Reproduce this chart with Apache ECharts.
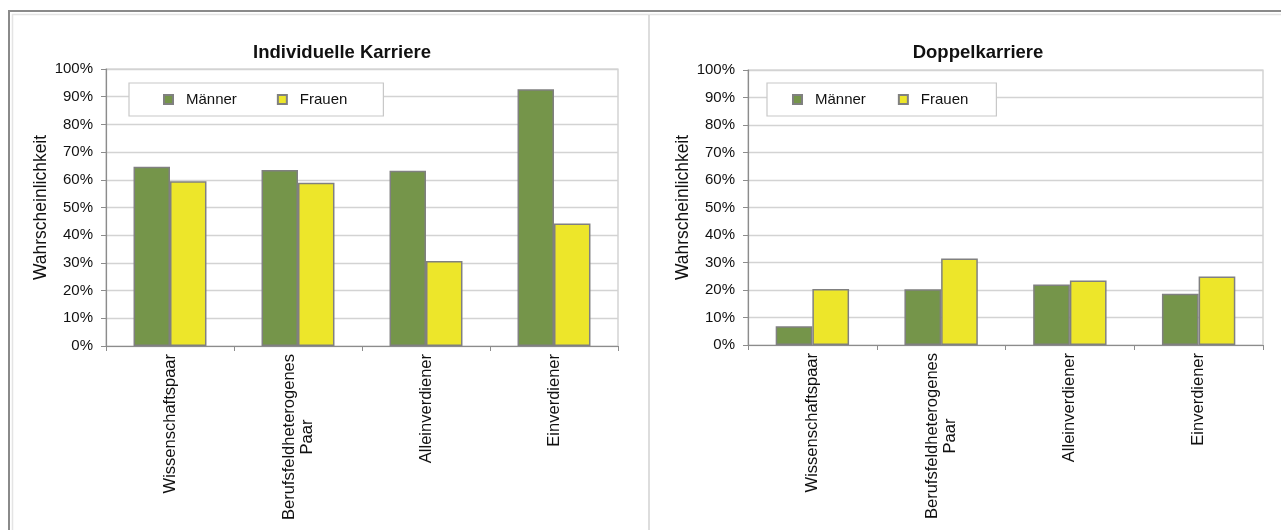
<!DOCTYPE html>
<html>
<head>
<meta charset="utf-8">
<script src="https://cdn.jsdelivr.net/npm/echarts@6/dist/echarts.min.js"></script>
<style>
html,body{margin:0;padding:0;background:#fff;}
#c{width:1281px;height:530px;}
</style>
</head>
<body>
<div id="c"></div>
<script>
var categories = ['Wissenschaftspaar', 'Berufsfeldheterogenes\nPaar', 'Alleinverdiener', 'Einverdiener'];
var seriesNames = ['Männer', 'Frauen'];
var indivMaenner = [64.7, 63.5, 63.3, 92.7];
var indivFrauen = [59.5, 58.9, 30.7, 44.2];
var doppelMaenner = [6.8, 20.3, 22.0, 18.6];
var doppelFrauen = [20.4, 31.5, 23.5, 24.9];
var titles = ['Individuelle Karriere', 'Doppelkarriere'];
var yAxisName = 'Wahrscheinlichkeit';

var FONT = "'Liberation Sans', Arial, sans-serif";
var GREEN = '#75954a';
var YELLOW = '#ede62a';
var BORDER = '#808080';

function yAx(gi) {
  return {
    gridIndex: gi, type: 'value', min: 0, max: 100, interval: 10,
    name: yAxisName, nameLocation: 'middle', nameRotate: 90, nameGap: 56,
    nameTextStyle: {fontFamily: FONT, fontSize: 17.5, color: '#111'},
    axisLine: {show: true, lineStyle: {color: '#8c8c8c', width: 1.2}},
    axisTick: {show: true, length: 5, lineStyle: {color: '#8c8c8c'}},
    axisLabel: {formatter: '{value}%', fontFamily: FONT, fontSize: 15, color: '#111', margin: 13},
    splitLine: {show: true, lineStyle: {color: '#d3d3d3', width: 1.3}}
  };
}
function xAx(gi) {
  return {
    gridIndex: gi, type: 'category', data: categories,
    axisLine: {show: true, lineStyle: {color: '#8c8c8c', width: 1.2}},
    axisTick: {show: true, length: 5, alignWithLabel: false, lineStyle: {color: '#8c8c8c'}},
    axisLabel: {
      rotate: 90, margin: 8, interval: 0, color: '#111', fontFamily: FONT, fontSize: 16.5,
      lineHeight: 18,
      formatter: function (v) { return v.split('\n').map(function (s) { return '{c|' + s + '}'; }).join('\n'); },
      rich: {c: {align: 'center', fontFamily: FONT, fontSize: 16.5, color: '#111', lineHeight: 18}}
    },
    splitLine: {show: false}
  };
}
function bar(name, data, gi, color) {
  return {
    name: name, type: 'bar', xAxisIndex: gi, yAxisIndex: gi, data: data,
    barGap: '0%', barCategoryGap: '43%',
    itemStyle: {color: color, borderColor: BORDER, borderWidth: 1.5},
    emphasis: {disabled: true}
  };
}
function legend(left, gap, pad) {
  return {
    data: seriesNames, left: left, top: 83, orient: 'horizontal',
    itemWidth: 9, itemHeight: 9, itemGap: gap, padding: pad,
    backgroundColor: '#fff', borderColor: '#c8c8c8', borderWidth: 1.2,
    icon: 'rect',
    textStyle: {fontFamily: FONT, fontSize: 15, color: '#111', padding: [0, 0, 0, 8]},
    selectedMode: false
  };
}

var chart = echarts.init(document.getElementById('c'), null, {renderer: 'canvas'});
chart.setOption({
  backgroundColor: '#fff',
  animation: false,
  title: [
    {text: titles[0], left: 337, top: 38, textAlign: 'center',
     textStyle: {fontFamily: FONT, fontSize: 18.5, fontWeight: 'bold', color: '#111'}},
    {text: titles[1], left: 973, top: 38, textAlign: 'center',
     textStyle: {fontFamily: FONT, fontSize: 18.5, fontWeight: 'bold', color: '#111'}}
  ],
  legend: [legend(129, 40, [9, 36, 9, 34]), legend(767, 32, [9, 28, 9, 25])],
  grid: [
    {left: 106, right: 1281 - 618, top: 69, bottom: 530 - 346, show: true, borderColor: '#c8c8c8', borderWidth: 1.2, backgroundColor: '#fff'},
    {left: 748, right: 1281 - 1263, top: 70, bottom: 530 - 345, show: true, borderColor: '#c8c8c8', borderWidth: 1.2, backgroundColor: '#fff'}
  ],
  xAxis: [xAx(0), xAx(1)],
  yAxis: [yAx(0), yAx(1)],
  series: [
    bar(seriesNames[0], indivMaenner, 0, GREEN),
    bar(seriesNames[1], indivFrauen, 0, YELLOW),
    bar(seriesNames[0], doppelMaenner, 1, GREEN),
    bar(seriesNames[1], doppelFrauen, 1, YELLOW)
  ],
  graphic: [
    {type: 'line', shape: {x1: 8, y1: 11, x2: 1281, y2: 11}, style: {stroke: '#8a8a8a', lineWidth: 2}, silent: true},
    {type: 'line', shape: {x1: 12, y1: 14.5, x2: 1281, y2: 14.5}, style: {stroke: '#e4e4e4', lineWidth: 1.5}, silent: true},
    {type: 'line', shape: {x1: 9, y1: 10, x2: 9, y2: 530}, style: {stroke: '#8a8a8a', lineWidth: 2}, silent: true},
    {type: 'line', shape: {x1: 12.5, y1: 14, x2: 12.5, y2: 530}, style: {stroke: '#e4e4e4', lineWidth: 1.5}, silent: true},
    {type: 'line', shape: {x1: 649, y1: 15, x2: 649, y2: 530}, style: {stroke: '#d2d2d2', lineWidth: 1.5}, silent: true}
  ]
});
</script>
</body>
</html>
